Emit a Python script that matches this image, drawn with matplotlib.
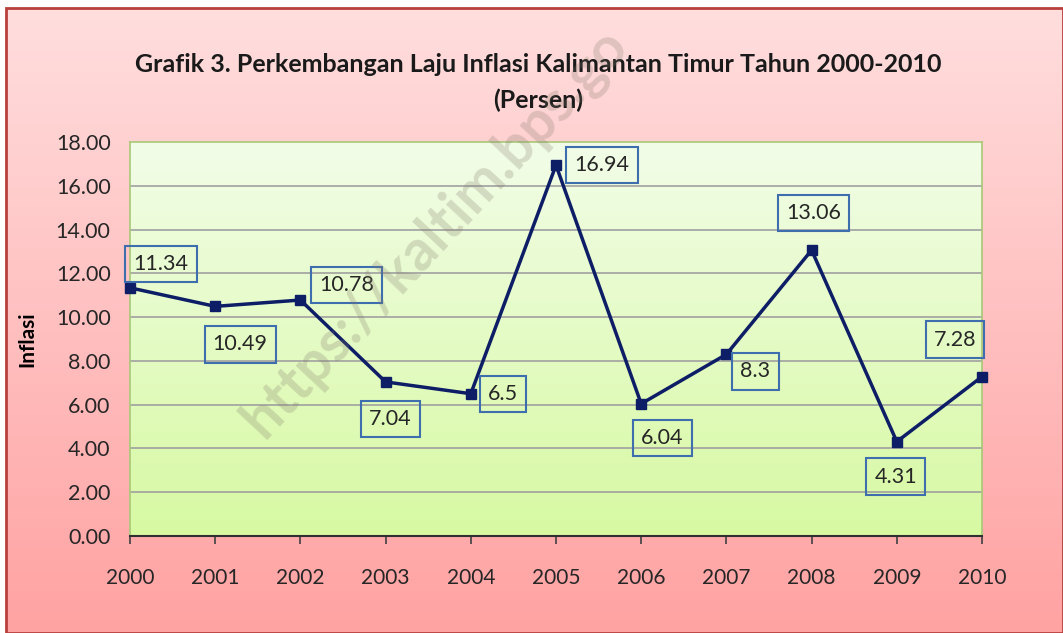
import numpy as np
import matplotlib.pyplot as plt
from matplotlib.patches import Rectangle
from matplotlib.colors import LinearSegmentedColormap

years = [2000, 2001, 2002, 2003, 2004, 2005, 2006, 2007, 2008, 2009, 2010]
inflasi = [11.34, 10.49, 10.78, 7.04, 6.5, 16.94, 6.04, 8.3, 13.06, 4.31, 7.28]
labels = ["11.34", "10.49", "10.78", "7.04", "6.5", "16.94", "6.04", "8.3", "13.06", "4.31", "7.28"]
yticks = [0, 2, 4, 6, 8, 10, 12, 14, 16, 18]

# label placement (pixels from the point)
offsets = [(31, 24), (25, -38), (46, 15), (5, -37), (32, 0), (46, 0),
           (21, -34), (29, -17), (2, 37), (-1, -35), (-27, 37)]

plt.rcParams['font.family'] = ['Lato', 'DejaVu Sans']

fig = plt.figure(figsize=(10.63, 6.33), dpi=100)
fig.patch.set_facecolor('white')

# pink gradient background of the chart frame
bg = fig.add_axes([6/1063, 0, 1 - 6/1063, 1 - 8/633])
bg.set_axis_off()
pink = LinearSegmentedColormap.from_list('pink', ['#FFDEDE', '#FFA2A2'])
bg.imshow(np.linspace(0, 1, 256).reshape(-1, 1), aspect='auto', cmap=pink,
          extent=[0, 1, 0, 1])
bg.set_xlim(0, 1)
bg.set_ylim(0, 1)
bg.add_patch(Rectangle((0, 0), 1, 1, transform=bg.transAxes, fill=False,
                       edgecolor='#B8403C', linewidth=2, clip_on=False))

ax = fig.add_axes([130/1063, 1 - 536/633, 852/1063, 394/633])
green = LinearSegmentedColormap.from_list('green', ['#F2FDE8', '#D7F9A2'])
ax.imshow(np.linspace(0, 1, 256).reshape(-1, 1), aspect='auto', cmap=green,
          extent=[2000, 2010, 0, 18], zorder=0)

for y in yticks[1:-1]:
    ax.axhline(y, color='#A0A0A0', linewidth=1.2, zorder=1)

ax.plot(years, inflasi, color='#0E1E66', linewidth=2.5, marker='s',
        markersize=7, zorder=3, clip_on=False)

for x, y, t, off in zip(years, inflasi, labels, offsets):
    ax.annotate(t, (x, y), xytext=off, textcoords='offset pixels',
                ha='center', va='center', fontsize=15.5, color='#262626',
                bbox=dict(boxstyle='square,pad=0.38', facecolor='none',
                          edgecolor='#3F6EAE', linewidth=1.5),
                zorder=4, annotation_clip=False)

ax.set_xlim(2000, 2010)
ax.set_ylim(0, 18)
ax.set_xticks(years)
ax.set_yticks(yticks)
ax.set_yticklabels([f"{v:.2f}" for v in yticks])
ax.tick_params(axis='x', length=6, width=1.2, color='#404040', pad=17,
               labelsize=15, labelcolor='#262626')
ax.tick_params(axis='y', length=0, pad=14, labelsize=15.5, labelcolor='#262626')

for s in ['top', 'right', 'left']:
    ax.spines[s].set_color('#A8C878')
    ax.spines[s].set_linewidth(1.2)
ax.spines['bottom'].set_color('#303030')
ax.spines['bottom'].set_linewidth(1.5)

ax.set_ylabel('Inflasi', fontsize=15, fontweight='bold', labelpad=13)

fig.text(538/1063, 1 - 65/633, 'Grafik 3. Perkembangan Laju Inflasi Kalimantan Timur Tahun 2000-2010',
         ha='center', va='center', fontsize=18, fontweight='bold', color='#1A1A1A')
fig.text(538/1063, 1 - 100/633, '(Persen)', ha='center', va='center',
         fontsize=18, fontweight='bold', color='#1A1A1A')

# watermark
fig.text(264/1063, 1 - 440/633, 'https://kaltim.bps.go', rotation=47,
         rotation_mode='anchor', ha='left', va='baseline', fontsize=41,
         fontweight='bold', color='#807868', alpha=0.25, zorder=10)

fig.savefig('out.png', dpi=100)
